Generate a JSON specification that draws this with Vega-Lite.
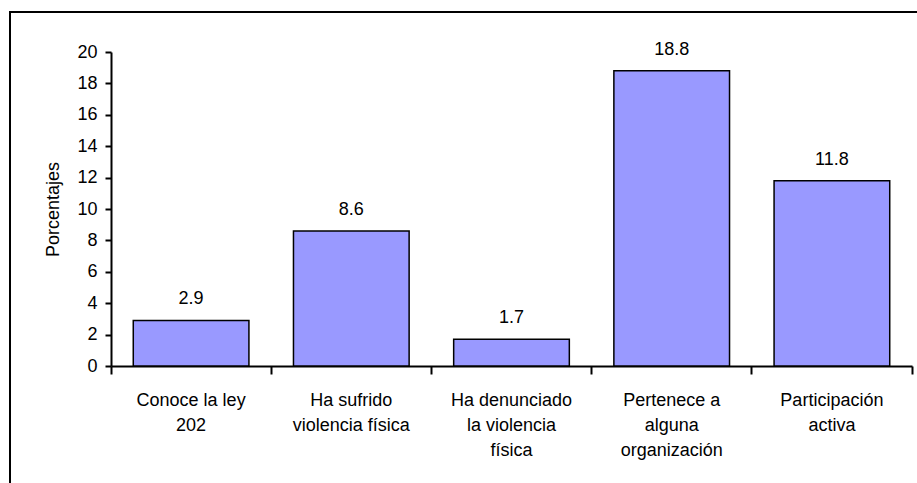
{
  "$schema": "https://vega.github.io/schema/vega-lite/v6.json",
  "autosize": {"type": "none"},
  "width": 920,
  "height": 480,
  "padding": {"left": 10, "top": 12, "right": 0, "bottom": 0},
  "background": "white",
  "config": {
    "view": {"stroke": "black", "strokeWidth": 2},
    "font": "Liberation Sans",
    "axis": {
      "domainColor": "black",
      "domainWidth": 2,
      "tickColor": "black",
      "tickWidth": 2,
      "labelColor": "black",
      "labelFont": "Liberation Sans",
      "labelFontSize": 18,
      "titleFont": "Liberation Sans",
      "titleFontSize": 18,
      "titleFontWeight": "normal",
      "titleColor": "black",
      "grid": false
    }
  },
  "data": {
    "values": [
      {"categoria": "Conoce la ley\n202", "valor": 2.9},
      {"categoria": "Ha sufrido\nviolencia física", "valor": 8.6},
      {"categoria": "Ha denunciado\nla violencia\nfísica", "valor": 1.7},
      {"categoria": "Pertenece a\nalguna\norganización", "valor": 18.8},
      {"categoria": "Participación\nactiva", "valor": 11.8}
    ]
  },
  "encoding": {
    "x": {
      "field": "categoria",
      "type": "nominal",
      "sort": null,
      "scale": {"range": [101, 902], "paddingInner": 0, "paddingOuter": 0},
      "axis": {
        "title": null,
        "orient": "bottom",
        "offset": -126,
        "labelAngle": 0,
        "labelExpr": "split(datum.label, '\\n')",
        "labelLineHeight": 25,
        "labelPadding": 17,
        "labelBaseline": "top",
        "tickSize": 8,
        "bandPosition": 1,
        "tickExtra": true
      }
    }
  },
  "layer": [
    {
      "mark": {"type": "bar", "width": {"band": 0.722}, "fill": "#9999FF", "stroke": "black", "strokeWidth": 1.5},
      "encoding": {
        "y": {
          "field": "valor",
          "type": "quantitative",
          "scale": {"domain": [0, 20], "range": [354, 40], "nice": false},
          "axis": {
            "title": "Porcentajes",
            "orient": "left",
            "offset": -101,
            "values": [0, 2, 4, 6, 8, 10, 12, 14, 16, 18, 20],
            "tickSize": 6,
            "labelPadding": 8,
            "titlePadding": 14
          }
        }
      }
    },
    {
      "mark": {"type": "text", "dy": -16, "baseline": "alphabetic", "fontSize": 18, "color": "black"},
      "encoding": {
        "y": {"field": "valor", "type": "quantitative"},
        "text": {"field": "valor", "type": "quantitative", "format": ".1f"}
      }
    }
  ]
}
